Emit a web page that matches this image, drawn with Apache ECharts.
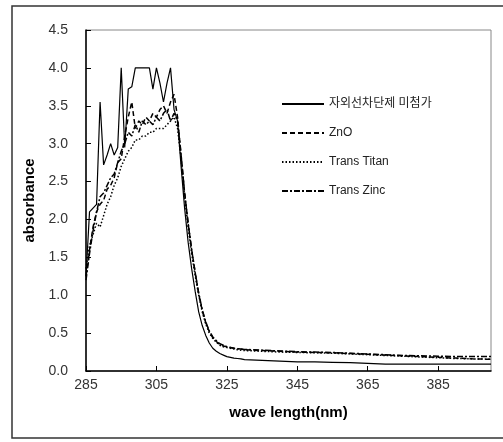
<!DOCTYPE html>
<html><head><meta charset="utf-8">
<script src="https://cdn.jsdelivr.net/npm/echarts@6/dist/echarts.min.js"></script>
<style>html,body{margin:0;padding:0;background:#fff}#c{width:503px;height:442px}</style>
</head><body><div id="c"></div>
<script>
var wavelengths = [285,286,287,288,289,290,291,292,293,294,295,296,297,298,299,300,301,302,303,304,305,306,307,308,309,310,
  311,312,313,314,315,316,317,318,319,320,321,322,323,324,325,326,327,328,329,330,335,340,345,350,355,360,365,370,375,380,385,390,395,400];
var seriesNames = ['자외선차단제 미첨가','ZnO','Trans Titan','Trans Zinc'];
var noFilter = [1.25,2.1,2.15,2.2,3.55,2.72,2.85,3.0,2.85,2.95,4.0,2.95,3.72,3.75,4.0,4.0,4.0,4.0,4.0,3.72,4.0,3.8,3.55,3.8,4.0,3.45,
  3.3,2.7,2.15,1.7,1.35,1.05,0.78,0.6,0.47,0.37,0.3,0.26,0.23,0.21,0.19,0.18,0.17,0.165,0.16,0.15,0.14,0.13,0.12,0.12,0.115,0.11,0.1,0.09,0.09,0.09,0.09,0.09,0.09,0.09];
var znO = [1.25,1.6,1.9,2.1,2.2,2.25,2.4,2.45,2.55,2.75,2.8,3.1,3.35,3.55,3.2,3.3,3.25,3.35,3.3,3.4,3.35,3.45,3.5,3.4,3.55,3.65,
  3.35,2.85,2.35,1.95,1.6,1.3,1.02,0.8,0.64,0.52,0.44,0.39,0.35,0.33,0.32,0.31,0.3,0.295,0.29,0.28,0.27,0.26,0.25,0.245,0.24,0.23,0.22,0.21,0.2,0.19,0.18,0.17,0.16,0.155];
var transTitan = [1.35,1.65,1.8,1.95,1.9,2.05,2.2,2.3,2.45,2.55,2.7,2.8,2.9,2.95,3.05,3.05,3.1,3.1,3.15,3.15,3.2,3.2,3.2,3.25,3.3,3.35,
  3.2,2.8,2.3,1.9,1.55,1.26,1.0,0.78,0.62,0.5,0.43,0.38,0.34,0.32,0.31,0.3,0.29,0.28,0.275,0.27,0.26,0.25,0.245,0.24,0.235,0.225,0.215,0.205,0.195,0.185,0.175,0.165,0.16,0.155];
var transZinc = [1.2,1.55,1.85,2.1,2.3,2.35,2.45,2.55,2.6,2.75,2.9,3.0,3.15,3.1,3.25,3.15,3.3,3.25,3.3,3.25,3.35,3.3,3.4,3.45,3.3,3.4,
  3.3,2.85,2.35,1.95,1.6,1.3,1.03,0.81,0.65,0.53,0.45,0.4,0.36,0.34,0.32,0.31,0.3,0.295,0.29,0.285,0.275,0.265,0.255,0.25,0.245,0.235,0.225,0.215,0.205,0.2,0.195,0.19,0.19,0.19];
var xTicks = [285,305,325,345,365,385];
var yTicks = [0,0.5,1,1.5,2,2.5,3,3.5,4,4.5];

function pairs(vals){ return wavelengths.map(function(x,i){ return [x, vals[i]]; }); }
var allVals = [noFilter, znO, transTitan, transZinc];
var dashes = ['solid', [5,3], [1.5,2], [6,2,2,2]];
var widths = [1.2, 1.5, 1.5, 1.5];

var chart = echarts.init(document.getElementById('c'), null, {renderer:'canvas'});
var fontFam = "'Liberation Sans', Arial, 'Noto Sans CJK KR', sans-serif";
chart.setOption({
  animation:false,
  backgroundColor:'#fff',
  textStyle:{fontFamily:fontFam},
  graphic:[{type:'rect', shape:{x:12, y:6, width:500, height:432}, style:{fill:'none', stroke:'#333', lineWidth:1.5}, z:-10}],
  grid:{left:86, right:12, top:30, bottom:71, show:true, borderColor:'#888', borderWidth:1, backgroundColor:'#fff'},
  legend:{
    orient:'vertical', left:276, top:93, itemWidth:42, itemHeight:14, itemGap:17,
    itemStyle:{opacity:0, borderWidth:0},
    textStyle:{fontSize:12, color:'#222', fontFamily:fontFam},
    data:seriesNames
  },
  xAxis:{
    type:'value', min:285, max:400, interval:20,
    name:'wave length(nm)', nameLocation:'middle', nameGap:34,
    nameTextStyle:{fontSize:15, fontWeight:'bold', color:'#000', fontFamily:fontFam},
    axisLine:{onZero:false, lineStyle:{color:'#000', width:1.5}},
    axisTick:{inside:true, length:5, lineStyle:{color:'#000'}},
    axisLabel:{fontSize:14, color:'#333', margin:7, showMaxLabel:false,
      formatter:function(v){ return xTicks.indexOf(v) >= 0 ? String(v) : ''; }},
    splitLine:{show:false}
  },
  yAxis:{
    type:'value', min:0, max:4.5, interval:0.5,
    name:'absorbance', nameLocation:'middle', nameGap:44,
    nameTextStyle:{fontSize:15, fontWeight:'bold', color:'#000', fontFamily:fontFam},
    axisLine:{show:true, lineStyle:{color:'#000', width:1.5}},
    axisTick:{show:true, inside:true, length:5, lineStyle:{color:'#000'}},
    axisLabel:{fontSize:14, color:'#333', margin:18,
      formatter:function(v){ return yTicks.indexOf(v) >= 0 ? v.toFixed(1) : ''; }},
    splitLine:{show:false}
  },
  series: seriesNames.map(function(n,i){
    return {name:n, type:'line', data:pairs(allVals[i]), symbol:'none', showSymbol:false,
      lineStyle:{color:'#000', width:widths[i], type:dashes[i]}, itemStyle:{color:'#000'}, z:10-i};
  })
});
</script></body></html>
